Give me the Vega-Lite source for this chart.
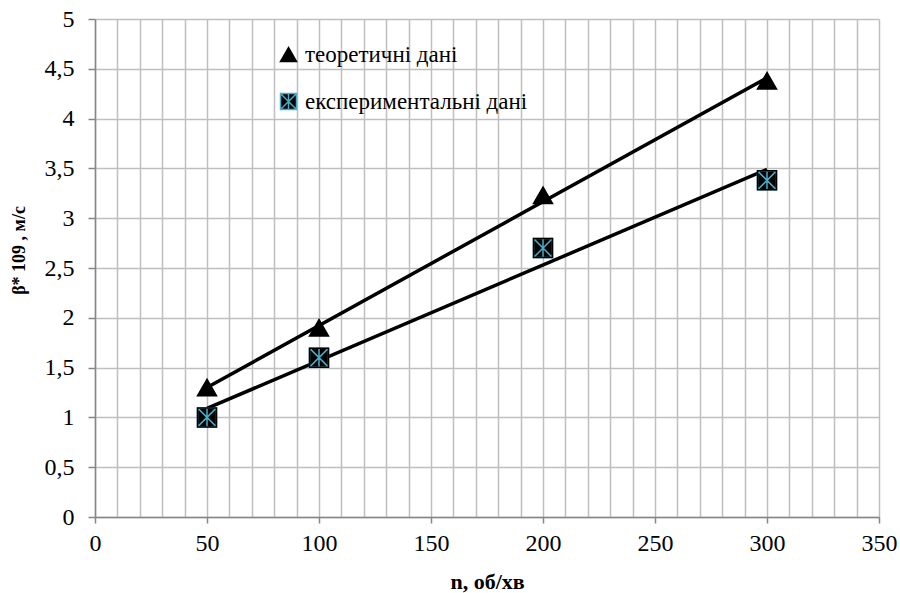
{
  "$schema": "https://vega.github.io/schema/vega-lite/v6.json",
  "width": 784,
  "height": 498,
  "autosize": {"type": "none"},
  "padding": {"left": 95, "top": 19, "right": 21, "bottom": 76},
  "background": "white",
  "config": {"view": {"stroke": null}, "font": "Liberation Serif"},
  "datasets": {
    "points": [
      {"n": 50, "beta": 1.3, "series": "теоретичні дані"},
      {"n": 100, "beta": 1.9, "series": "теоретичні дані"},
      {"n": 200, "beta": 3.23, "series": "теоретичні дані"},
      {"n": 300, "beta": 4.38, "series": "теоретичні дані"},
      {"n": 50, "beta": 1.0, "series": "експериментальні дані"},
      {"n": 100, "beta": 1.6, "series": "експериментальні дані"},
      {"n": 200, "beta": 2.7, "series": "експериментальні дані"},
      {"n": 300, "beta": 3.38, "series": "експериментальні дані"}
    ],
    "trend": [
      {"n": 50, "beta": 1.3, "series": "теоретичні дані"},
      {"n": 300, "beta": 4.41, "series": "теоретичні дані"},
      {"n": 50, "beta": 1.09, "series": "експериментальні дані"},
      {"n": 300, "beta": 3.49, "series": "експериментальні дані"}
    ]
  },
  "encoding": {
    "x": {
      "field": "n",
      "type": "quantitative",
      "scale": {"domain": [0, 350], "nice": false},
      "axis": {
        "values": [0,10,20,30,40,50,60,70,80,90,100,110,120,130,140,150,160,170,180,190,200,210,220,230,240,250,260,270,280,290,300,310,320,330,340,350],
        "grid": true,
        "gridColor": "#BFBFBF",
        "gridWidth": 1.5,
        "domainColor": "#868686",
        "domainWidth": 1.5,
        "tickColor": "#868686",
        "tickWidth": 1.5,
        "tickSize": 6,
        "tickOpacity": {"condition": {"test": "datum.value % 50 === 0", "value": 1}, "value": 0},
        "labelExpr": "datum.value % 50 === 0 ? datum.label : ''",
        "labelFont": "Liberation Serif",
        "labelFontSize": 24,
        "labelColor": "black",
        "labelPadding": 8,
        "labelFlush": false,
        "labelOverlap": false,
        "title": "n, об/хв",
        "titleFont": "Liberation Serif",
        "titleFontSize": 22,
        "titleFontWeight": "bold",
        "titleColor": "black",
        "titlePadding": 16
      }
    },
    "y": {
      "field": "beta",
      "type": "quantitative",
      "scale": {"domain": [0, 5], "nice": false},
      "axis": {
        "values": [0, 0.5, 1, 1.5, 2, 2.5, 3, 3.5, 4, 4.5, 5],
        "grid": true,
        "gridColor": "#BFBFBF",
        "gridWidth": 1.5,
        "domainColor": "#868686",
        "domainWidth": 1.5,
        "tickColor": "#868686",
        "tickWidth": 1.5,
        "tickSize": 7,
        "labelExpr": "replace(format(datum.value, '~g'), '.', ',')",
        "labelFont": "Liberation Serif",
        "labelFontSize": 24,
        "labelColor": "black",
        "labelPadding": 14,
        "labelFlush": false,
        "labelOverlap": false,
        "title": "β* 109 , м/с",
        "titleFont": "Liberation Serif",
        "titleFontSize": 18,
        "titleFontWeight": "bold",
        "titleColor": "black",
        "titlePadding": 16,
        "titleY": 231
      }
    }
  },
  "layer": [
    {
      "data": {"name": "trend"},
      "mark": {"type": "line", "color": "black", "strokeWidth": 3.5},
      "encoding": {"detail": {"field": "series"}}
    },
    {
      "data": {"name": "points"},
      "mark": {"type": "point", "filled": true, "size": 361, "strokeWidth": 1.5, "opacity": 1},
      "encoding": {
        "shape": {
          "field": "series",
          "type": "nominal",
          "scale": {"domain": ["теоретичні дані", "експериментальні дані"], "range": ["triangle-up", "M-1,-1H1V1H-1Z M-1,-1L1,1 M1,-1L-1,1 M0,-1V1"]},
          "legend": {"title": null, "orient": "none", "legendX": 182, "legendY": 24, "labelFont": "Liberation Serif", "labelFontSize": 23, "labelColor": "black", "labelLimit": 500, "symbolSize": 256, "rowPadding": 23, "labelOffset": 5, "padding": 0, "symbolStrokeWidth": 1.5}
        },
        "fill": {
          "field": "series",
          "type": "nominal",
          "scale": {"domain": ["теоретичні дані", "експериментальні дані"], "range": ["black", "black"]},
          "legend": {"title": null, "orient": "none", "legendX": 182, "legendY": 24, "labelFont": "Liberation Serif", "labelFontSize": 23, "labelColor": "black", "labelLimit": 500, "symbolSize": 256, "rowPadding": 23, "labelOffset": 5, "padding": 0, "symbolStrokeWidth": 1.5}
        },
        "stroke": {
          "field": "series",
          "type": "nominal",
          "scale": {"domain": ["теоретичні дані", "експериментальні дані"], "range": ["black", "#4BACC6"]},
          "legend": {"title": null, "orient": "none", "legendX": 182, "legendY": 24, "labelFont": "Liberation Serif", "labelFontSize": 23, "labelColor": "black", "labelLimit": 500, "symbolSize": 256, "rowPadding": 23, "labelOffset": 5, "padding": 0, "symbolStrokeWidth": 1.5}
        }
      }
    },
    {
      "data": {"name": "points"},
      "transform": [{"filter": "datum.series === 'експериментальні дані'"}],
      "mark": {"type": "point", "shape": "square", "filled": false, "size": 361, "stroke": "black", "strokeWidth": 1.5, "opacity": 1}
    }
  ]
}
